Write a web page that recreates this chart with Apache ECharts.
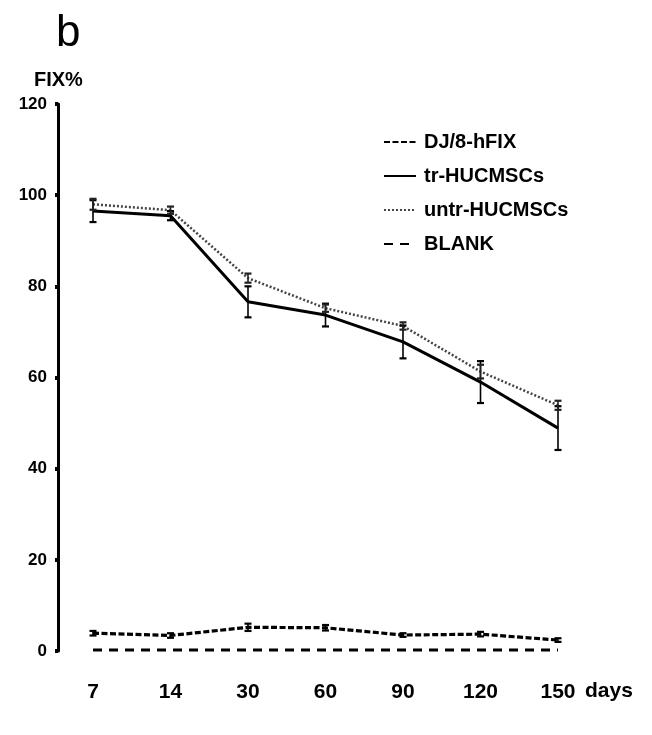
<!DOCTYPE html>
<html>
<head>
<meta charset="utf-8">
<script src="https://cdn.jsdelivr.net/npm/echarts@6/dist/echarts.min.js"></script>
<style>
html,body{margin:0;padding:0;background:#fff;}
#chart{width:652px;height:735px;}
</style>
</head>
<body>
<div id="chart"></div>
<script>
var categories = ['7', '14', '30', '60', '90', '120', '150'];
var yTicks = [0, 20, 40, 60, 80, 100, 120];
var djValues = [3.9, 3.4, 5.2, 5.1, 3.5, 3.7, 2.4];
var djErr = [0.5, 0.5, 0.8, 0.6, 0.4, 0.5, 0.4];
var trValues = [96.5, 95.5, 76.6, 73.7, 67.8, 59.0, 48.9];
var trErr = [2.4, 1.0, 3.4, 2.5, 3.6, 4.6, 4.8];
var untrValues = [98.0, 96.7, 81.8, 75.2, 71.3, 61.3, 53.9];
var untrErr = [1.2, 0.8, 1.0, 0.8, 0.8, 1.5, 1.0];
var blankValues = [0.2, 0.2, 0.2, 0.2, 0.2, 0.2, 0.2];

var FONT = '"Liberation Sans", Arial, sans-serif';

function errData(vals, errs) {
  return vals.map(function (v, i) { return [i, v - errs[i], v + errs[i]]; });
}
function errSeries(vals, errs, color) {
  return {
    type: 'custom',
    silent: true,
    z: 5,
    data: errData(vals, errs),
    renderItem: function (params, api) {
      var x = api.value(0);
      var lo = api.coord([x, api.value(1)]);
      var hi = api.coord([x, api.value(2)]);
      var w = 3.5;
      return {
        type: 'group',
        children: [
          { type: 'line', shape: { x1: lo[0], y1: lo[1], x2: hi[0], y2: hi[1] }, style: { stroke: color, lineWidth: 1.6 } },
          { type: 'line', shape: { x1: lo[0] - w, y1: lo[1], x2: lo[0] + w, y2: lo[1] }, style: { stroke: color, lineWidth: 2.2 } },
          { type: 'line', shape: { x1: hi[0] - w, y1: hi[1], x2: hi[0] + w, y2: hi[1] }, style: { stroke: color, lineWidth: 2.2 } }
        ]
      };
    }
  };
}

var chart = echarts.init(document.getElementById('chart'), null, { renderer: 'canvas' });
chart.setOption({
  backgroundColor: '#fff',
  animation: false,
  color: ['#000', '#000', '#444', '#000'],
  grid: { left: 93, right: 94, top: 104, bottom: 84 },
  legend: {
    orient: 'vertical',
    left: 383,
    top: 132,
    padding: 0,
    itemWidth: 32,
    itemHeight: 14,
    itemGap: 14,
    itemStyle: { opacity: 0 },
    data: ['DJ/8-hFIX', 'tr-HUCMSCs', 'untr-HUCMSCs', 'BLANK'],
    textStyle: { fontFamily: FONT, fontWeight: 'bold', fontSize: 20, color: '#000', padding: [0, 0, 0, 3] }
  },
  xAxis: {
    type: 'category',
    data: categories,
    boundaryGap: false,
    axisLine: { show: false },
    axisTick: { show: false },
    axisLabel: { margin: 31, fontFamily: FONT, fontWeight: 'bold', fontSize: 21, color: '#000' },
    splitLine: { show: false }
  },
  yAxis: {
    type: 'value',
    min: yTicks[0],
    max: yTicks[yTicks.length - 1],
    interval: 20,
    offset: 35,
    axisLine: { show: true, lineStyle: { color: '#000', width: 3 } },
    axisTick: { show: true, length: 3, lineStyle: { color: '#000', width: 4 } },
    axisLabel: { margin: 11, fontFamily: FONT, fontWeight: 'bold', fontSize: 17, color: '#000' },
    splitLine: { show: false }
  },
  graphic: [
    { type: 'text', left: 56, top: 12, style: { text: 'b', font: '44px "Liberation Sans", Arial, sans-serif', fill: '#000' } },
    { type: 'text', left: 34, top: 70, style: { text: 'FIX%', font: 'bold 20px ' + FONT, fill: '#000' } },
    { type: 'text', left: 585, top: 681, style: { text: 'days', font: 'bold 21px ' + FONT, fill: '#000' } }
  ],
  series: [
    {
      name: 'DJ/8-hFIX', type: 'line', data: djValues, symbol: 'none', z: 3,
      itemStyle: { color: '#000' },
      lineStyle: { color: '#000', width: 3.2, type: [6, 2.5] }
    },
    {
      name: 'tr-HUCMSCs', type: 'line', data: trValues, symbol: 'none', z: 4,
      itemStyle: { color: '#000' },
      lineStyle: { color: '#000', width: 3 }
    },
    {
      name: 'untr-HUCMSCs', type: 'line', data: untrValues, symbol: 'none', z: 3,
      itemStyle: { color: '#444' },
      lineStyle: { color: '#444', width: 2.5, type: [2, 2] }
    },
    {
      name: 'BLANK', type: 'line', data: blankValues, symbol: 'none', z: 3,
      itemStyle: { color: '#000' },
      lineStyle: { color: '#000', width: 3, type: [9, 7] }
    },
    errSeries(djValues, djErr, '#000'),
    errSeries(trValues, trErr, '#000'),
    errSeries(untrValues, untrErr, '#222')
  ]
});
</script>
</body>
</html>
